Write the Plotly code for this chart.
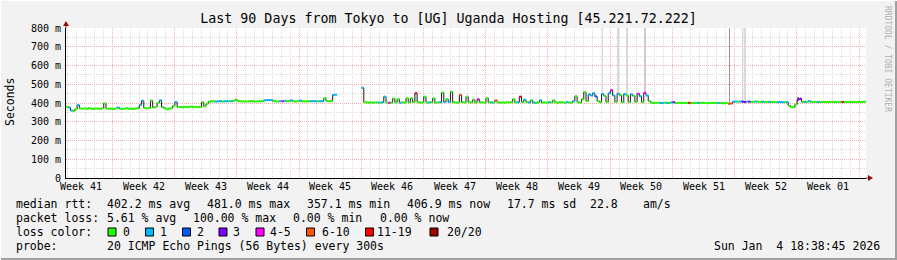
import plotly.graph_objects as go
import pandas as pd

# ---------------- data ----------------
TITLE = "Last 90 Days from Tokyo to [UG] Uganda Hosting [45.221.72.222]"
START = "2025-10-06 18:38:45"
END = "2026-01-04 18:38:45"
STEP = "6h"

# median RTT per 6h bucket (ms); None = 100% loss (no median)
median_ms = [
    380, 376, 360, 357, 368, 389, 371, 370, 371, 369, 372, 370, 368, 371, 370, 369, 372, 398, 370, 369,
    370, 368, 371, 376, 370, 369, 370, 372, 369, 370, 368, 371, 372, 390, 412, 374, 371, 373, 413, 376,
    380, 400, 414, 378, 372, 366, 370, 372, 385, 405, 378, 379, 377, 380, 378, 379, 381, 378, 379, 378,
    380, 404, 382, 395, 407, 409, 409, 408, 409, 410, 408, 409, 409, 410, 409, 412, 418, 410, 409, 408,
    409, 408, 409, 410, 409, 408, 409, 409, 410, 414, 416, 416, 415, 410, 409, 408, 410, 409, 412, 409,
    410, 414, 409, 408, 410, 413, 409, 408, 409, 410, 409, 410, 409, 409, 410, 409, 426, 410, 409, 411,
    443, 444, None, None, None, None, None, None, None, None, None, None, None, 481, 404, 403, 402, 403, 402, 403,
    403, 402, 404, 434, 402, 401, 402, 424, 403, 420, 402, 403, 402, 425, 403, 425, 405, 452, 404, 402,
    403, 434, 402, 403, 404, 425, 402, 403, 404, 455, 405, 420, 406, 460, 404, 403, 402, 443, 404, 403,
    434, 404, 403, 418, 402, 420, 404, 403, 402, 425, 404, 403, 402, 414, 403, 402, 403, 402, 404, 403,
    404, 420, 403, 404, 434, 405, 418, 404, 403, 414, 402, 401, 403, 414, 402, 403, 402, 404, 403, 414,
    403, 402, 404, 403, 402, 404, 403, 402, 410, 436, 404, 402, 420, 458, 410, 446, 440, 452, 435, 410,
    404, 448, 438, 405, 452, 468, 440, 406, 450, 442, 404, 448, 440, 405, 446, 438, 406, 450, 436, 404,
    455, 440, 410, 402, 401, 400, 402, 401, 400, 402, 401, 400, 403, 404, 401, 400, 401, 400, 401, 400,
    401, 400, 399, 400, 401, 400, 401, 400, 399, 400, 401, 400, 401, 400, 401, 399, 398, 400, 396, 398,
    407, 408, 407, 408, 407, 405, 408, 407, 406, 407, 408, 407, 406, 407, 406, 405, 406, 405, 406, 405,
    404, 405, 404, 405, 404, 386, 378, 377, 392, 418, 422, 406, 405, 406, 410, 406, 405, 406, 405, 406,
    405, 406, 405, 405, 406, 405, 406, 405, 406, 405, 406, 405, 406, 405, 406, 405, 406, 405, 406, 407,
]

# loss colour class per bucket (index into loss_labels)
loss_code = [
    0, 1, 1, 0, 0, 1, 0, 0, 0, 0, 0, 0, 0, 0, 0, 0, 0, 0, 0, 0,
    0, 0, 0, 1, 0, 0, 0, 0, 0, 0, 0, 0, 0, 1, 1, 0, 0, 0, 0, 0,
    0, 0, 1, 0, 0, 0, 0, 0, 0, 1, 0, 0, 0, 0, 0, 0, 0, 0, 0, 0,
    0, 0, 0, 0, 0, 0, 0, 1, 1, 1, 0, 1, 1, 0, 1, 0, 0, 0, 0, 0,
    0, 0, 0, 0, 0, 0, 0, 0, 0, 1, 1, 1, 1, 0, 0, 0, 1, 4, 1, 0,
    0, 1, 0, 0, 0, 1, 0, 0, 0, 0, 1, 1, 1, 0, 1, 1, 0, 0, 0, 0,
    1, 1, 7, 7, 7, 7, 7, 7, 7, 7, 7, 7, 7, 1, 0, 0, 0, 0, 0, 0,
    1, 0, 1, 1, 0, 4, 0, 0, 0, 0, 1, 0, 0, 0, 0, 0, 0, 6, 0, 0,
    0, 0, 0, 1, 0, 0, 0, 0, 1, 0, 1, 0, 1, 0, 0, 0, 0, 5, 0, 0,
    0, 0, 0, 0, 0, 4, 0, 0, 0, 0, 0, 1, 0, 5, 0, 0, 0, 0, 0, 0,
    0, 0, 0, 1, 6, 0, 1, 0, 1, 0, 1, 0, 0, 1, 0, 0, 0, 1, 0, 0,
    0, 0, 0, 0, 0, 1, 0, 0, 1, 0, 0, 0, 0, 0, 0, 1, 1, 1, 2, 0,
    0, 1, 0, 0, 1, 4, 1, 0, 1, 0, 0, 1, 0, 0, 1, 0, 0, 4, 1, 0,
    4, 1, 0, 0, 0, 0, 0, 1, 1, 0, 1, 0, 1, 3, 0, 0, 0, 0, 0, 0,
    6, 0, 0, 0, 1, 0, 0, 0, 0, 0, 0, 0, 0, 1, 0, 0, 0, 0, 5, 5,
    1, 1, 0, 1, 3, 3, 1, 3, 0, 0, 1, 0, 0, 1, 0, 0, 1, 0, 0, 0,
    1, 1, 1, 0, 1, 0, 0, 0, 0, 3, 3, 0, 1, 0, 1, 0, 0, 0, 1, 0,
    0, 0, 0, 0, 0, 0, 0, 0, 0, 6, 0, 0, 0, 0, 0, 0, 0, 0, 0, 0,
]

loss_labels = ["0", "1", "2", "3", "4-5", "6-10", "11-19", "20/20"]
loss_colors = ["#26ff00", "#00b8ff", "#0059ff", "#7e00ff", "#ff00ff", "#ff5500", "#ff0000", "#a10000"]

# smoke (spread of individual pings) for a few buckets
smoke_idx = [241, 248, 252, 260, 298, 304, 305, 329, 330]
smoke_top_ms = [900, 900, 900, 900, 900, 900, 900, 434, 430]
smoke_color = ["#d8d8d8", "#d8d8d8", "#d8d8d8", "#cccccc", "#999999", "#dadada", "#dadada", "#808080", "#a0a0a0"]

week_bounds = ["2025-10-12", "2025-10-19", "2025-10-26", "2025-11-02", "2025-11-09", "2025-11-16",
               "2025-11-23", "2025-11-30", "2025-12-07", "2025-12-14", "2025-12-21", "2025-12-28", "2026-01-04"]
week_labels = ["Week 41", "Week 42", "Week 43", "Week 44", "Week 45", "Week 46", "Week 47",
               "Week 48", "Week 49", "Week 50", "Week 51", "Week 52", "Week 01"]

y_ticks = [0, 100, 200, 300, 400, 500, 600, 700, 800]
y_ticktext = ["0", "100 m", "200 m", "300 m", "400 m", "500 m", "600 m", "700 m", "800 m"]

row_rtt = [("median rtt:", 16), ("402.2 ms avg", 107), ("481.0 ms max", 207), ("357.1 ms min", 307),
           ("406.9 ms now", 407), ("17.7 ms sd", 506.5), ("22.8", 590), ("am/s", 643)]
row_loss = [("packet loss:", 16), ("5.61 % avg", 107), ("100.00 % max", 193), ("0.00 % min", 293),
            ("0.00 % now", 380)]
row_probe = [("probe:", 16), ("20 ICMP Echo Pings (56 Bytes) every 300s", 107)]
STAMP = "Sun Jan  4 18:38:45 2026"
legend_square_x = [108, 145.5, 182.5, 219, 256, 306.5, 365.5, 430]
legend_label_x = [123, 160, 196.5, 233, 270, 321.5, 377, 446.5]

# ---------------- figure ----------------
MONO = "DejaVu Sans Mono"
L, R, T, B = 66, 31, 28, 82
W, H = 897, 260
PW, PH = W - L - R, H - T - B


def px(x):
    return (x - L) / PW


def py(y):
    return (H - B - y) / PH


def nb(s):
    return s.replace(" ", "\u00a0")


edges = pd.date_range(START, periods=len(median_ms) + 1, freq=STEP)
bucket_h = pd.Timedelta(STEP)

fig = go.Figure()

# smoke
fig.add_trace(go.Bar(
    x=[edges[i] + bucket_h / 2 for i in smoke_idx],
    base=[median_ms[i] for i in smoke_idx],
    y=[t - median_ms[i] for t, i in zip(smoke_top_ms, smoke_idx)],
    width=[2.7 * 3600 * 1000 * 0.6] * len(smoke_idx),
    marker=dict(color=smoke_color, line=dict(width=0)),
    hoverinfo="skip", showlegend=False,
))

# connecting median step line (dark)
fig.add_trace(go.Scatter(
    x=list(edges), y=median_ms + [median_ms[-1]],
    mode="lines", line=dict(color="#1a1a1a", width=1, shape="hv"),
    connectgaps=False, hoverinfo="skip", showlegend=False,
))

# coloured median segments by loss
for c, col in enumerate(loss_colors):
    xs, ys = [], []
    for i, (m, lc) in enumerate(zip(median_ms, loss_code)):
        if m is not None and lc == c:
            xs += [edges[i], edges[i + 1], None]
            ys += [m, m, None]
    if xs:
        fig.add_trace(go.Scatter(x=xs, y=ys, mode="lines", line=dict(color=col, width=2),
                                 hoverinfo="skip", showlegend=False))

GRID_MAJ = "#f4b0b0"
GRID_MIN = "#dcdcdc"

fig.update_xaxes(
    type="date", range=[START, END], tickmode="array", tickvals=week_bounds,
    showticklabels=False, ticks="", showgrid=True, gridcolor=GRID_MAJ, griddash="1px,1px", gridwidth=1,
    minor=dict(tickmode="linear", tick0="2025-10-12", dtick=86400000, showgrid=True,
               gridcolor=GRID_MIN, griddash="1px,1px", gridwidth=1),
    showline=True, linecolor="#000000", linewidth=1, zeroline=False, fixedrange=True,
)
fig.update_yaxes(
    range=[0, 800], tickmode="array", tickvals=y_ticks, ticktext=y_ticktext,
    ticks="", ticklabelstandoff=2, tickfont=dict(family=MONO, size=10, color="#000"),
    showgrid=True, gridcolor=GRID_MAJ, griddash="1px,1px", gridwidth=1,
    minor=dict(tickmode="linear", tick0=0, dtick=50, showgrid=True, gridcolor=GRID_MIN,
               griddash="1px,1px", gridwidth=1),
    showline=True, linecolor="#000000", linewidth=1, zeroline=False, fixedrange=True,
)

ann = []


def txt(x, y, s, size=11.5, anchor="left", color="#000000", angle=0, xref="paper"):
    ann.append(dict(xref=xref, yref="paper", x=x if xref != "paper" else px(x), y=py(y),
                    text=nb(s), showarrow=False, xanchor=anchor, yanchor="middle",
                    textangle=angle, borderpad=0,
                    font=dict(family=MONO, size=size, color=color)))


# week labels centred in each week
for b, lab in zip(week_bounds, week_labels):
    mid = pd.Timestamp(b) - pd.Timedelta(days=3.5)
    txt(mid, 186.5, lab, size=10, anchor="center", xref="x")

for s, x in row_rtt:
    txt(x - 1, 204, s)
for s, x in row_loss:
    txt(x - 1, 218, s)
txt(15, 232, "loss color:")
for x, lab in zip(legend_label_x, loss_labels):
    txt(x - 1, 232, lab)
for s, x in row_probe:
    txt(x - 1, 246, s)
txt(881, 246, STAMP, anchor="right")

txt(10, 102, "Seconds", size=11.5, anchor="center", angle=-90)
txt(888, 59, "RRDTOOL / TOBI OETIKER", size=8, anchor="center", angle=90, color="#b0b0b0")

shapes = []
for x, col in zip(legend_square_x, loss_colors):
    shapes.append(dict(type="rect", xref="paper", yref="paper", x0=px(x), x1=px(x + 8),
                       y0=py(236), y1=py(228), fillcolor=col, line=dict(color="#000000", width=1)))

ARROW = "#8b1010"
shapes.append(dict(type="path", xref="paper", yref="paper", xsizemode="pixel", ysizemode="pixel",
                   xanchor=0, yanchor=1,
                   path="M-0.5,0 L-0.5,2 L-3,2 L0,7 L3,2 L0.5,2 L0.5,0 Z",
                   fillcolor=ARROW, line=dict(width=0)))
shapes.append(dict(type="path", xref="paper", yref="paper", xsizemode="pixel", ysizemode="pixel",
                   xanchor=1, yanchor=0,
                   path="M0,-0.5 L2,-0.5 L2,-3 L7,0 L2,3 L2,0.5 L0,0.5 Z",
                   fillcolor=ARROW, line=dict(width=0)))

# image frame (3D border)
shapes.append(dict(type="line", xref="paper", yref="paper", x0=px(0), x1=px(W), y0=py(259), y1=py(259),
                   line=dict(color="#a0a0a0", width=2)))
shapes.append(dict(type="line", xref="paper", yref="paper", x0=px(896), x1=px(896), y0=py(0), y1=py(H),
                   line=dict(color="#a0a0a0", width=2)))
shapes.append(dict(type="line", xref="paper", yref="paper", x0=px(0), x1=px(W), y0=py(0.5), y1=py(0.5),
                   line=dict(color="#ffffff", width=1)))
shapes.append(dict(type="line", xref="paper", yref="paper", x0=px(0.5), x1=px(0.5), y0=py(0), y1=py(H),
                   line=dict(color="#ffffff", width=1)))

fig.update_layout(
    width=W, height=H, margin=dict(l=L, r=R, t=T, b=B, pad=0),
    paper_bgcolor="#f2f2f2", plot_bgcolor="#ffffff",
    showlegend=False, bargap=0,
    font=dict(family=MONO, size=11, color="#000000"),
    title=dict(text=TITLE, x=0.5, xref="container", xanchor="center",
               y=1 - 18.5 / H, yref="container", yanchor="middle",
               font=dict(family=MONO, size=13.3, color="#000000")),
    annotations=ann, shapes=shapes,
)

fig.write_html("out.html")
